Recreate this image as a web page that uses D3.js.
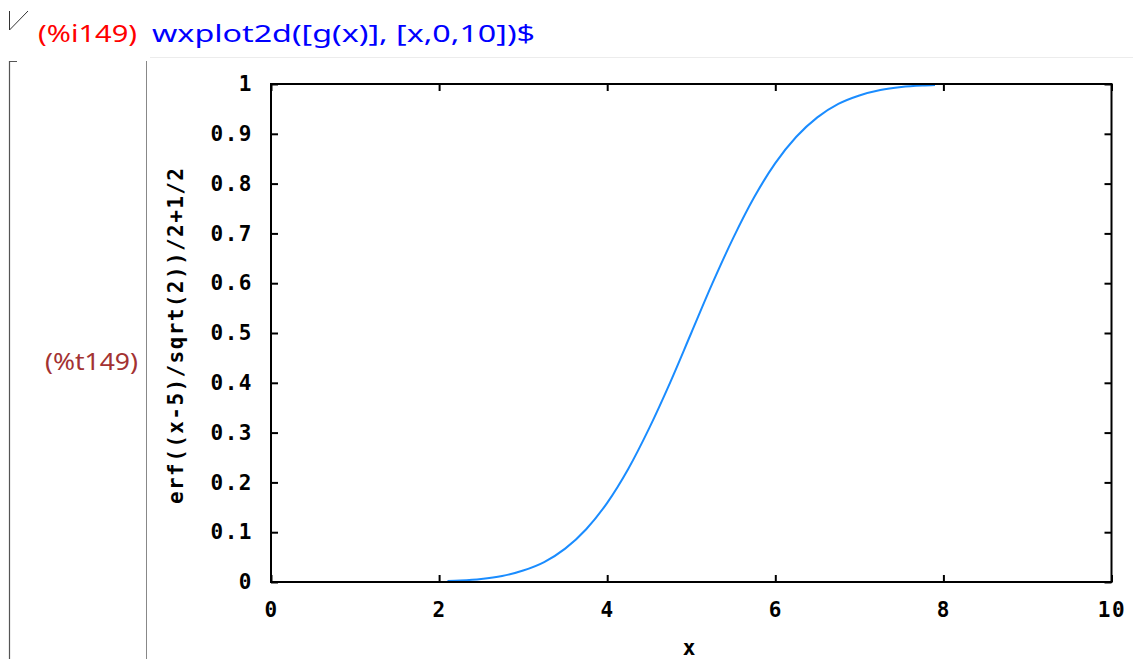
<!DOCTYPE html>
<html><head><meta charset="utf-8">
<script src="https://cdn.jsdelivr.net/npm/d3@7"></script>
<style>body{margin:0;background:#fff;} svg{display:block;}</style>
</head><body>
<script>
// data
const xValues = [2.1, 2.25, 2.5, 2.75, 3, 3.25, 3.5, 3.75, 4, 4.25, 4.5, 4.75, 5, 5.25, 5.5, 5.75, 6, 6.25, 6.5, 6.75, 7, 7.25, 7.5, 7.75, 7.9];
const yValues = [0.002, 0.003, 0.006, 0.012, 0.023, 0.040, 0.067, 0.106, 0.159, 0.227, 0.309, 0.401, 0.5, 0.599, 0.691, 0.773, 0.841, 0.894, 0.933, 0.960, 0.977, 0.988, 0.994, 0.997, 0.998];
const xTicks = [0, 2, 4, 6, 8, 10];
const yTicks = [0, 0.1, 0.2, 0.3, 0.4, 0.5, 0.6, 0.7, 0.8, 0.9, 1];
const yTickLabels = ["0", "0.1", "0.2", "0.3", "0.4", "0.5", "0.6", "0.7", "0.8", "0.9", "1"];
const xTickLabels = ["0", "2", "4", "6", "8", "10"];
const inputLabel = "(%i149)";
const inputText = "wxplot2d([g(x)], [x,0,10])$";
const outputLabel = "(%t149)";
const yTitle = "erf((x-5)/sqrt(2))/2+1/2";
const xTitle = "x";

const W = 1133, H = 659;
const svg = d3.select("body").append("svg").attr("width", W).attr("height", H);

// worksheet decorations
svg.append("line").attr("x1",150).attr("x2",W).attr("y1",57.5).attr("y2",57.5).attr("stroke","#ececec");
svg.append("path").attr("d","M9.5,30 L9.5,11 M9.5,30 L28,11").attr("stroke","#333").attr("fill","none").attr("stroke-width",1);
svg.append("path").attr("d","M9.5,61.5 L17,61.5 M9.5,61 L9.5,659").attr("stroke","#555").attr("fill","none").attr("stroke-width",1.2);
svg.append("line").attr("x1",146.5).attr("x2",146.5).attr("y1",61).attr("y2",H).attr("stroke","#888");

svg.append("text").attr("x",38).attr("y",42).attr("font-family","Noto Sans").attr("font-size",24)
  .attr("fill","#ff0000").attr("textLength",99).attr("lengthAdjust","spacingAndGlyphs").text(inputLabel);
svg.append("text").attr("x",152).attr("y",42).attr("font-family","Noto Sans").attr("font-size",24)
  .attr("fill","#0000ff").attr("textLength",383).attr("lengthAdjust","spacingAndGlyphs").text(inputText);
svg.append("text").attr("x",45).attr("y",370).attr("font-family","Noto Sans").attr("font-size",24)
  .attr("fill","#a33232").attr("textLength",93).attr("lengthAdjust","spacingAndGlyphs").text(outputLabel);

// plot
const x = d3.scaleLinear().domain([0,10]).range([271,1111.5]);
const y = d3.scaleLinear().domain([0,1]).range([582,84]);
const mono = "DejaVu Sans Mono";

const g = svg.append("g");
// curve
const line = d3.line().x((d,i)=>x(xValues[i])).y((d,i)=>y(yValues[i])).curve(d3.curveMonotoneX);
g.append("path").datum(yValues).attr("d",line).attr("fill","none").attr("stroke","#1a8cff").attr("stroke-width",2);

// frame
g.append("rect").attr("x",x(0)).attr("y",y(1)).attr("width",x(10)-x(0)).attr("height",y(0)-y(1))
  .attr("fill","none").attr("stroke","#000").attr("stroke-width",2);

// axes (ticks inward on all four sides)
const tl = 7;
const axB = d3.axisBottom(x).tickValues(xTicks).tickSize(-tl).tickFormat((d,i)=>xTickLabels[i]).tickPadding(tl+13);
const axT = d3.axisTop(x).tickValues(xTicks).tickSize(-tl).tickFormat("");
const axL = d3.axisLeft(y).tickValues(yTicks).tickSize(-tl).tickFormat((d,i)=>yTickLabels[i]).tickPadding(tl+11);
const axR = d3.axisRight(y).tickValues(yTicks).tickSize(-tl).tickFormat("");
function style(sel){
  sel.select(".domain").remove();
  sel.selectAll(".tick line").attr("stroke","#000").attr("stroke-width",2);
  sel.selectAll(".tick text").attr("font-family",mono).attr("font-weight","bold").attr("font-size",21)
    .attr("letter-spacing","1.5px").attr("fill","#000");
}
g.append("g").attr("transform",`translate(0,${y(0)})`).call(axB).call(style);
g.append("g").attr("transform",`translate(0,${y(1)})`).call(axT).call(style);
g.append("g").attr("transform",`translate(${x(0)},0)`).call(axL).call(style);
g.append("g").attr("transform",`translate(${x(10)},0)`).call(axR).call(style);

// titles
g.append("text").attr("x",689).attr("y",655).attr("text-anchor","middle").attr("font-family",mono)
  .attr("font-weight","bold").attr("font-size",21).text(xTitle);
g.append("text").attr("transform","translate(183,336) rotate(-90)").attr("text-anchor","middle")
  .attr("font-family",mono).attr("font-weight","bold").attr("font-size",21)
  .attr("textLength",336).attr("lengthAdjust","spacing").text(yTitle);
</script>
</body></html>
